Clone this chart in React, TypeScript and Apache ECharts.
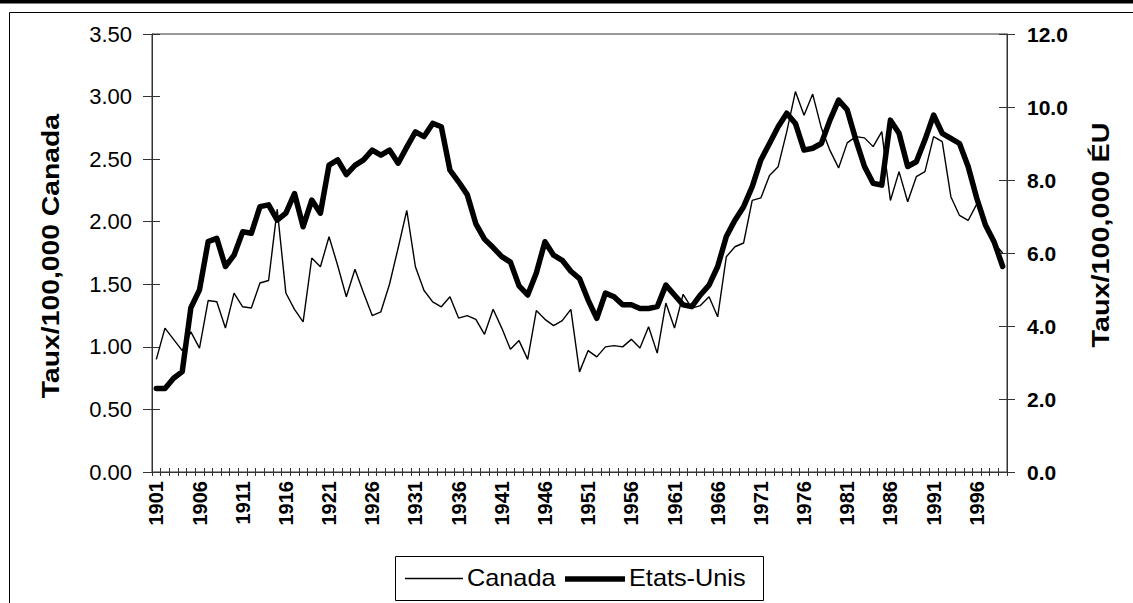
import React, { useEffect, useRef } from "react";
import * as echarts from "echarts";

const years = [
  "1901","1902","1903","1904","1905","1906","1907","1908","1909","1910",
  "1911","1912","1913","1914","1915","1916","1917","1918","1919","1920",
  "1921","1922","1923","1924","1925","1926","1927","1928","1929","1930",
  "1931","1932","1933","1934","1935","1936","1937","1938","1939","1940",
  "1941","1942","1943","1944","1945","1946","1947","1948","1949","1950",
  "1951","1952","1953","1954","1955","1956","1957","1958","1959","1960",
  "1961","1962","1963","1964","1965","1966","1967","1968","1969","1970",
  "1971","1972","1973","1974","1975","1976","1977","1978","1979","1980",
  "1981","1982","1983","1984","1985","1986","1987","1988","1989","1990",
  "1991","1992","1993","1994","1995","1996","1997","1998","1999",
];

// Taux/100,000 Canada (left axis)
const canada = [
  0.90, 1.15, 1.06, 0.97, 1.12, 0.99, 1.37, 1.36, 1.15, 1.43,
  1.32, 1.31, 1.51, 1.53, 2.10, 1.43, 1.30, 1.20, 1.71, 1.64,
  1.88, 1.65, 1.40, 1.62, 1.43, 1.25, 1.28, 1.50, 1.79, 2.09,
  1.64, 1.45, 1.36, 1.32, 1.40, 1.23, 1.25, 1.22, 1.10, 1.30,
  1.15, 0.98, 1.05, 0.90, 1.29, 1.22, 1.17, 1.21, 1.30, 0.80,
  0.97, 0.92, 1.00, 1.01, 1.00, 1.06, 0.99, 1.16, 0.95, 1.35,
  1.15, 1.42, 1.31, 1.33, 1.40, 1.24, 1.72, 1.80, 1.83, 2.17,
  2.19, 2.37, 2.44, 2.72, 3.04, 2.85, 3.02, 2.75, 2.57, 2.43,
  2.63, 2.68, 2.67, 2.60, 2.72, 2.17, 2.40, 2.16, 2.36, 2.40,
  2.68, 2.64, 2.20, 2.05, 2.01, 2.14, 1.96, 1.83, 1.75,
];

// Taux/100,000 ÉU (right axis)
const etatsUnis = [
  2.29, 2.29, 2.57, 2.75, 4.50, 4.99, 6.31, 6.40, 5.63, 5.94,
  6.58, 6.54, 7.27, 7.32, 6.90, 7.09, 7.63, 6.72, 7.45, 7.09,
  8.41, 8.55, 8.15, 8.40, 8.55, 8.82, 8.68, 8.82, 8.46, 8.90,
  9.32, 9.19, 9.55, 9.46, 8.27, 7.95, 7.60, 6.80, 6.38, 6.15,
  5.90, 5.75, 5.10, 4.85, 5.45, 6.31, 5.94, 5.80, 5.50, 5.30,
  4.71, 4.21, 4.90, 4.80, 4.58, 4.58, 4.48, 4.48, 4.53, 5.12,
  4.85, 4.58, 4.53, 4.85, 5.12, 5.63, 6.45, 6.90, 7.27, 7.82,
  8.55, 9.00, 9.46, 9.83, 9.55, 8.82, 8.87, 9.00, 9.64, 10.19,
  9.92, 9.10, 8.37, 7.91, 7.86, 9.64, 9.28, 8.37, 8.50, 9.10,
  9.78, 9.28, 9.14, 9.00, 8.37, 7.50, 6.77, 6.31, 5.63,
];

const seriesNames = ["Canada", "Etats-Unis"];
const leftTitle = "Taux/100,000 Canada";
const rightTitle = "Taux/100,000 ÉU";

const FONT = "'Liberation Sans', Arial, sans-serif";
const THIN = 1.4;
const THICK = 5.5;

export default function App() {
  const ref = useRef<HTMLDivElement>(null);

  useEffect(() => {
    if (!ref.current) return;
    const chart = echarts.init(ref.current, undefined, { renderer: "svg" });
    const axisColor = "#333";
    chart.setOption({
      animation: false,
      backgroundColor: "#fff",
      textStyle: { fontFamily: FONT },
      grid: {
        left: 152,
        right: 126,
        top: 34,
        bottom: 131,
        show: true,
        borderColor: axisColor,
        borderWidth: 1,
        backgroundColor: "transparent",
      },
      xAxis: [
        {
          type: "category",
          data: years,
          boundaryGap: true,
          position: "bottom",
          axisLine: { show: true, lineStyle: { color: axisColor, width: 1 } },
          axisTick: { show: true, interval: 0, length: 4, lineStyle: { color: axisColor } },
          axisLabel: {
            interval: 4,
            rotate: 90,
            margin: 9,
            fontFamily: FONT,
            fontSize: 20,
            fontWeight: "bold",
            color: "#000",
          },
          splitLine: { show: false },
        },
        {
          type: "category",
          data: years,
          boundaryGap: true,
          position: "bottom",
          axisLine: { show: false },
          axisTick: { show: true, inside: true, interval: 0, length: 4, lineStyle: { color: axisColor } },
          axisLabel: { show: false },
          splitLine: { show: false },
        },
      ],
      yAxis: [
        {
          type: "value",
          position: "left",
          min: 0,
          max: 3.5,
          interval: 0.5,
          axisLine: { show: true, lineStyle: { color: axisColor, width: 1 } },
          axisTick: { show: true, length: 9, lineStyle: { color: axisColor } },
          axisLabel: {
            margin: 20,
            fontFamily: FONT,
            fontSize: 22,
            color: "#000",
            formatter: (v: number) => v.toFixed(2),
          },
          splitLine: { show: false },
        },
        {
          type: "value",
          position: "right",
          min: 0,
          max: 12,
          interval: 2,
          axisLine: { show: true, lineStyle: { color: axisColor, width: 1 } },
          axisTick: { show: true, length: 8, lineStyle: { color: axisColor } },
          axisLabel: {
            margin: 20,
            fontFamily: FONT,
            fontSize: 21,
            fontWeight: "bold",
            color: "#000",
            formatter: (v: number) => v.toFixed(1),
          },
          splitLine: { show: false },
        },
        {
          type: "value",
          position: "left",
          min: 0,
          max: 3.5,
          interval: 0.5,
          axisLine: { show: false },
          axisTick: { show: true, inside: true, length: 8, lineStyle: { color: axisColor } },
          axisLabel: { show: false },
          splitLine: { show: false },
        },
        {
          type: "value",
          position: "right",
          min: 0,
          max: 12,
          interval: 2,
          axisLine: { show: false },
          axisTick: { show: true, inside: true, length: 8, lineStyle: { color: axisColor } },
          axisLabel: { show: false },
          splitLine: { show: false },
        },
      ],
      graphic: [
        {
          type: "rect",
          shape: { x: 0, y: 0, width: 1133, height: 3.5 },
          style: { fill: "#000" },
        },
        {
          type: "line",
          shape: { x1: 9.5, y1: 12.5, x2: 1133, y2: 12.5 },
          style: { stroke: "#000", lineWidth: 1 },
        },
        {
          type: "line",
          shape: { x1: 9.5, y1: 12.5, x2: 9.5, y2: 603 },
          style: { stroke: "#000", lineWidth: 1 },
        },
        // legend box
        {
          type: "rect",
          shape: { x: 395.5, y: 556.5, width: 368, height: 44 },
          style: { fill: "#fff", stroke: "#000", lineWidth: 1 },
        },
        {
          type: "line",
          shape: { x1: 405, y1: 578.5, x2: 463, y2: 578.5 },
          style: { stroke: "#000", lineWidth: THIN },
        },
        {
          type: "text",
          x: 467,
          y: 578,
          scaleX: 1.1,
          style: {
            text: seriesNames[0],
            font: `23px ${FONT}`,
            fill: "#000",
            textAlign: "left",
            textVerticalAlign: "middle",
          },
        },
        {
          type: "line",
          shape: { x1: 565, y1: 579, x2: 625, y2: 579 },
          style: { stroke: "#000", lineWidth: THICK },
        },
        {
          type: "text",
          x: 629,
          y: 578,
          scaleX: 1.1,
          style: {
            text: seriesNames[1],
            font: `23px ${FONT}`,
            fill: "#000",
            textAlign: "left",
            textVerticalAlign: "middle",
          },
        },
        // axis titles
        {
          type: "text",
          x: 51,
          y: 256,
          rotation: Math.PI / 2,
          scaleX: 1.18,
          style: {
            text: leftTitle,
            font: `bold 24px ${FONT}`,
            fill: "#000",
            textAlign: "center",
            textVerticalAlign: "middle",
          },
        },
        {
          type: "text",
          x: 1101,
          y: 235,
          rotation: Math.PI / 2,
          scaleX: 1.2,
          style: {
            text: rightTitle,
            font: `bold 24px ${FONT}`,
            fill: "#000",
            textAlign: "center",
            textVerticalAlign: "middle",
          },
        },
      ],
      series: [
        {
          name: seriesNames[0],
          type: "line",
          xAxisIndex: 0,
          yAxisIndex: 0,
          data: canada,
          symbol: "none",
          showSymbol: false,
          lineStyle: { color: "#000", width: THIN },
          itemStyle: { color: "#000" },
          z: 3,
        },
        {
          name: seriesNames[1],
          type: "line",
          xAxisIndex: 0,
          yAxisIndex: 1,
          data: etatsUnis,
          symbol: "none",
          showSymbol: false,
          lineStyle: { color: "#000", width: THICK, join: "round", cap: "round" },
          itemStyle: { color: "#000" },
          z: 2,
        },
      ],
    });
    return () => chart.dispose();
  }, []);

  return (
    <div
      ref={ref}
      style={{ position: "fixed", left: 0, top: 0, width: 1133, height: 603, background: "#fff" }}
    />
  );
}
